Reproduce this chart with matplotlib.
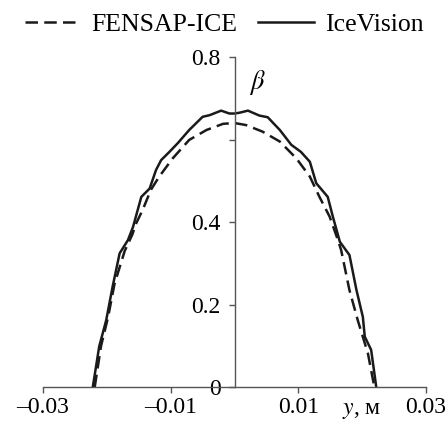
import matplotlib
matplotlib.use("Agg")
import matplotlib.pyplot as plt
import numpy as np

plt.rcParams["font.family"] = ["Liberation Serif", "DejaVu Serif"]
plt.rcParams["mathtext.fontset"] = "stix"

# IceVision (solid)
y_ice = [-0.0222, -0.0217, -0.0212, -0.0201, -0.0191, -0.0180, -0.0167, -0.0159,
         -0.0146, -0.0133, -0.0123, -0.0115, -0.0102, -0.0089, -0.0071, -0.0050,
         -0.0039, -0.0021, -0.0008, 0.0, 0.0008, 0.0021, 0.0039, 0.0052, 0.0071,
         0.0089, 0.0104, 0.0118, 0.0128, 0.0146, 0.0154, 0.0165, 0.0180, 0.0191,
         0.0201, 0.0204, 0.0214, 0.0222]
beta_ice = [0.0, 0.049, 0.098, 0.162, 0.243, 0.324, 0.356, 0.388,
            0.461, 0.481, 0.526, 0.550, 0.570, 0.591, 0.623, 0.655,
            0.659, 0.670, 0.663, 0.663, 0.665, 0.670, 0.658, 0.654, 0.623,
            0.587, 0.570, 0.546, 0.494, 0.461, 0.413, 0.352, 0.320, 0.235,
            0.170, 0.122, 0.090, 0.0]

# FENSAP-ICE (dashed)
y_fen = [-0.0219, -0.0209, -0.0198, -0.0188, -0.0172, -0.0160, -0.0154, -0.0144,
         -0.0131, -0.0118, -0.0097, -0.0071, -0.0044, -0.0018, 0.0, 0.0018,
         0.0044, 0.0071, 0.0097, 0.0118, 0.0133, 0.0149, 0.0162, 0.0167,
         0.0180, 0.0193, 0.0209, 0.0219]
beta_fen = [0.0, 0.10, 0.17, 0.25, 0.33, 0.37, 0.397, 0.429,
            0.478, 0.510, 0.554, 0.599, 0.623, 0.638, 0.640, 0.635,
            0.619, 0.595, 0.554, 0.510, 0.461, 0.413, 0.356, 0.332,
            0.235, 0.162, 0.081, 0.0]

xticks = [-0.03, -0.01, 0.01, 0.03]
xtick_labels = ["\u20130.03", "\u20130.01", "0.01", "0.03"]
yticks = [0, 0.2, 0.4, 0.6, 0.8]
ytick_labels = ["0", "0.2", "0.4", "", "0.8"]

fig = plt.figure(figsize=(4.48, 4.28), dpi=100)
ax = fig.add_axes([0.096, 0.0958, 0.855, 0.771])

ax.plot(y_fen, beta_fen, color="#1a1a1a", lw=1.8, dashes=(5, 2.5),
        solid_joinstyle="round", label="FENSAP-ICE")
ax.plot(y_ice, beta_ice, color="#1a1a1a", lw=1.8,
        solid_joinstyle="round", label="IceVision")

ax.set_xlim(-0.03, 0.03)
ax.set_ylim(0, 0.8)
for s in ["top", "right"]:
    ax.spines[s].set_visible(False)
ax.spines["left"].set_position(("data", 0))
ax.spines["bottom"].set_position(("data", 0))
for s in ["left", "bottom"]:
    ax.spines[s].set_color("#555555")
    ax.spines[s].set_linewidth(1.0)

ax.set_xticks(xticks)
ax.set_xticklabels(xtick_labels)
ax.set_yticks(yticks)
ax.set_yticklabels(ytick_labels)
ax.tick_params(axis="both", labelsize=17, length=4, width=1.0, color="#555555")
ax.tick_params(axis="x", pad=3)
ax.tick_params(axis="y", pad=6)

ax.text(0.0199, -0.056, "$y$, м", fontsize=17, ha="center", va="center")
ax.text(0.0036, 0.737, r"$\beta$", fontsize=19, ha="center", va="center")

fig.legend(loc="upper center", bbox_to_anchor=(0.5, 1.0), ncol=2, frameon=False,
           fontsize=18.5, handlelength=2.2, handletextpad=0.4, columnspacing=0.8,
           borderaxespad=0.1)

fig.savefig("out.png", dpi=100)
